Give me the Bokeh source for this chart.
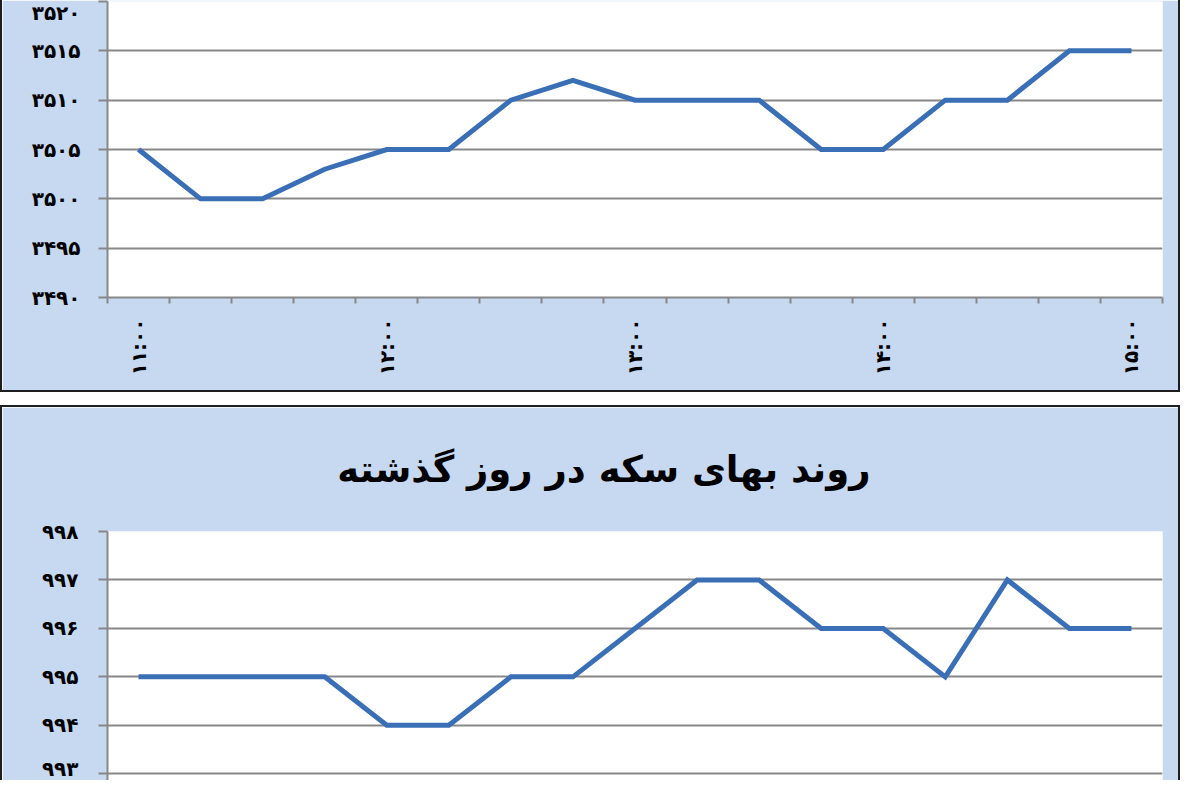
import math
from bokeh.plotting import figure
from bokeh.models import FixedTicker, Range1d, ColumnDataSource
from bokeh.layouts import column
from bokeh.embed import file_html
from bokeh.resources import INLINE

# ---------------- data ----------------
time_labels = ["۱۱:۰۰", "۱۱:۱۵", "۱۱:۳۰", "۱۱:۴۵",
               "۱۲:۰۰", "۱۲:۱۵", "۱۲:۳۰", "۱۲:۴۵",
               "۱۳:۰۰", "۱۳:۱۵", "۱۳:۳۰", "۱۳:۴۵",
               "۱۴:۰۰", "۱۴:۱۵", "۱۴:۳۰", "۱۴:۴۵",
               "۱۵:۰۰"]
labelled_every = 4

top_values = [3505, 3500, 3500, 3503, 3505, 3505, 3510, 3512, 3510,
              3510, 3510, 3505, 3505, 3510, 3510, 3515, 3515]
bottom_values = [995, 995, 995, 995, 994, 994, 995, 995, 996,
                 997, 997, 996, 996, 995, 997, 996, 996]

top_ticks = [3490, 3495, 3500, 3505, 3510, 3515, 3520]
top_tick_labels = ["۳۴۹۰", "۳۴۹۵", "۳۵۰۰", "۳۵۰۵", "۳۵۱۰", "۳۵۱۵", "۳۵۲۰"]
bottom_ticks = [993, 994, 995, 996, 997, 998]
bottom_tick_labels = ["۹۹۳", "۹۹۴", "۹۹۵", "۹۹۶", "۹۹۷", "۹۹۸"]

title_text = "روند بهای سکه در روز گذشته"

# ---------------- style ----------------
PANEL = "#c6d9f0"
GRID = "#878787"
LINE = "#3a6fb6"
BORDER = "#1e1e1e"
FONT = "DejaVu Sans"
LABEL_SIZE = "20px"

n = len(time_labels)
xs = list(range(n))
x_range_start, x_range_end = -0.5, n - 0.5


def style_common(p, ticks, tick_labels, standoff):
    p.background_fill_color = "white"
    p.border_fill_color = PANEL
    p.outline_line_color = None
    p.xgrid.grid_line_color = None
    p.ygrid.grid_line_color = GRID
    p.ygrid.grid_line_width = 2
    p.yaxis.ticker = FixedTicker(ticks=ticks)
    p.yaxis.major_label_overrides = {t: l for t, l in zip(ticks, tick_labels)}
    p.yaxis.axis_line_color = GRID
    p.yaxis.axis_line_width = 2
    p.yaxis.major_tick_line_color = GRID
    p.yaxis.major_tick_line_width = 2
    p.yaxis.major_tick_out = 9
    p.yaxis.major_tick_in = 0
    p.yaxis.minor_tick_line_color = None
    p.yaxis.major_label_standoff = standoff
    p.yaxis.major_label_text_font = FONT
    p.yaxis.major_label_text_font_style = "bold"
    p.yaxis.major_label_text_font_size = LABEL_SIZE
    p.yaxis.major_label_text_color = "black"


# ---------------- top panel ----------------
p1 = figure(width=1180, height=392, output_backend="svg", toolbar_location=None,
            x_range=Range1d(x_range_start, x_range_end),
            y_range=Range1d(top_ticks[0], top_ticks[-1]),
            min_border_left=105, min_border_right=20,
            min_border_top=1, min_border_bottom=95)
style_common(p1, top_ticks, top_tick_labels, 18)

label_pos = [i for i in xs if i % labelled_every == 0]
p1.xaxis.ticker = FixedTicker(ticks=label_pos,
                              minor_ticks=[i - 0.5 for i in range(n + 1)])
p1.xaxis.major_label_overrides = {i: time_labels[i] for i in label_pos}
p1.xaxis.major_label_orientation = math.pi / 2
p1.xaxis.axis_line_color = GRID
p1.xaxis.axis_line_width = 2
p1.xaxis.major_tick_line_color = None
p1.xaxis.major_tick_out = 6
p1.xaxis.major_tick_in = 0
p1.xaxis.minor_tick_line_color = GRID
p1.xaxis.minor_tick_line_width = 2
p1.xaxis.minor_tick_out = 6
p1.xaxis.minor_tick_in = 0
p1.xaxis.major_label_standoff = 15
p1.xaxis.major_label_text_font = FONT
p1.xaxis.major_label_text_font_style = "bold"
p1.xaxis.major_label_text_font_size = LABEL_SIZE
p1.xaxis.major_label_text_color = "black"

src1 = ColumnDataSource(dict(x=xs, y=top_values))
p1.line("x", "y", source=src1, line_color=LINE, line_width=5, line_join="miter")
p1.styles = {"border-left": f"2px solid {BORDER}",
             "border-right": f"2px solid {BORDER}",
             "border-bottom": f"2px solid {BORDER}"}

# ---------------- bottom panel ----------------
p2 = figure(width=1180, height=375, output_backend="svg", toolbar_location=None,
            x_range=Range1d(x_range_start, x_range_end),
            y_range=Range1d(992.82, bottom_ticks[-1]),
            x_axis_location=None,
            min_border_left=95, min_border_right=20,
            min_border_top=124, min_border_bottom=0)
style_common(p2, bottom_ticks, bottom_tick_labels, 20)
p2.title.text = title_text
p2.title.align = "right"
p2.title.offset = 292
p2.title.vertical_align = "top"
p2.title.text_font = FONT
p2.title.text_font_style = "bold"
p2.title.text_font_size = "37px"
p2.title.text_color = "black"
p2.title.standoff = 78

src2 = ColumnDataSource(dict(x=xs, y=bottom_values))
p2.line("x", "y", source=src2, line_color=LINE, line_width=5, line_join="miter")
p2.styles = {"border-left": f"2px solid {BORDER}",
             "border-right": f"2px solid {BORDER}",
             "border-top": f"2px solid {BORDER}"}

layout = column(p1, p2, spacing=13)

open("out.html", "w").write(file_html(layout, INLINE))
